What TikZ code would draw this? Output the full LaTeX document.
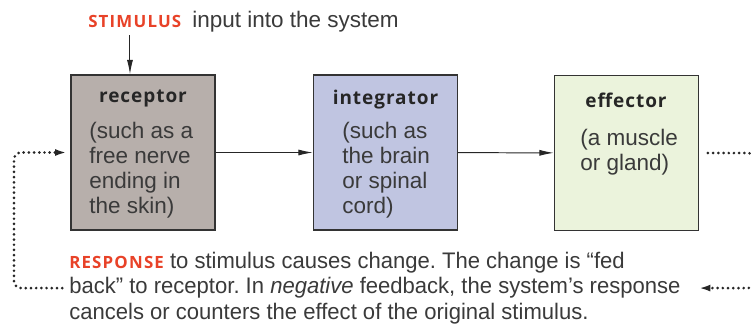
\documentclass[tikz,border=0pt]{standalone}
\usepackage{fontspec}
\setmainfont{Liberation Sans}
\newfontfamily\headfont{Open Sans}[LetterSpace=5]
\newfontfamily\capsfont{Open Sans}[LetterSpace=7]
\newfontfamily\notefont{Liberation Sans}[FakeStretch=0.98]
\usetikzlibrary{arrows.meta}
\definecolor{receptorfill}{RGB}{183,175,171}
\definecolor{integratorfill}{RGB}{192,197,225}
\definecolor{effectorfill}{RGB}{235,243,220}
\definecolor{stimred}{RGB}{232,66,40}
\definecolor{textgray}{RGB}{58,58,58}

\begin{document}
\frenchspacing
\begin{tikzpicture}[x=0.025cm,y=-0.025cm]
\tikzset{
  box/.style={draw=black!80,line width=0.9pt,minimum width=3.6cm,minimum height=3.875cm,inner sep=0pt},
  title/.style={font=\headfont\bfseries\fontsize{13.5}{16}\selectfont,text=black!85,inner sep=0pt},
  body/.style={font=\fontsize{16}{17.7}\selectfont,text=textgray,align=left,anchor=north west,inner sep=0pt},
  flow/.style={-{Latex[length=3.6mm,width=1.5mm]},line width=0.7pt,black!85},
  feedback/.style={line width=2.1pt,dash pattern=on 0pt off 3.7pt,line cap=round,rounded corners=5pt,black!85},
  redcaps/.style={font=\capsfont\bfseries\fontsize{12}{13}\selectfont,text=stimred,inner sep=0pt}
}
\useasboundingbox (0,0) rectangle (751,325);
\clip (0,0) rectangle (751,325);

% the stimulus on top
\node[redcaps,anchor=base west] (stimulus) at (88,27) {STIMULUS};
\node[anchor=base west,inner sep=0pt,text=textgray,font=\fontsize{16}{17.7}\selectfont] (stimulus-note) at (192,27) {input into the system};

% the three boxes
\node[box,fill=receptorfill] (receptor) at (143,152.5) {};
\node[box,fill=integratorfill] (integrator) at (385.5,152.5) {};
\node[box,fill=effectorfill] (effector) at (626.5,153) {};

% titles
\node[title] (receptor-title) at (143,98) {receptor};
\node[title] (integrator-title) at (385.5,100) {integrator};
\node[title] (effector-title) at (626,100) {effector};

% texts in the boxes
\node[body] (receptor-text) at (89,122) {(such as a\\free nerve\\ending in\\the skin)};
\node[body] (integrator-text) at (342,122) {(such as\\the brain\\or spinal\\cord)};
\node[body] (effector-text) at (580,129) {(a muscle\\or gland)};

% the response
\node[anchor=north west,inner sep=0pt,align=left,text=textgray,font=\notefont\fontsize{16}{18}\selectfont] (response) at (69,252)
  {{\capsfont\bfseries\fontsize{12}{13}\selectfont\color{stimred}RESPONSE} to stimulus causes change. The change is “fed\\
   back” to receptor. In \textit{negative} feedback, the system’s response\\
   cancels or counters the effect of the original stimulus.};

% arrows
\draw[flow] ([xshift=-0.12cm,yshift=-0.2cm]stimulus.south) -- ([xshift=-0.12cm]stimulus.south |- receptor.north);
\draw[flow] (receptor) -- (integrator);
\draw[flow] (integrator) -- (effector);

% feedback loop
\coordinate (loop-left) at (14,220);
\coordinate (loop-right) at (755,220);
\draw[feedback,shorten <=0.22cm,shorten >=0.36cm,-{Latex[length=3.8mm,width=1.6mm]}] (effector.east) -| (loop-right) |- (response.east);
\draw[feedback,shorten <=0.17cm,-{Latex[length=3.8mm,width=1.6mm]}] (response.west) -| (loop-left) |- (receptor.west);
\end{tikzpicture}
\end{document}
